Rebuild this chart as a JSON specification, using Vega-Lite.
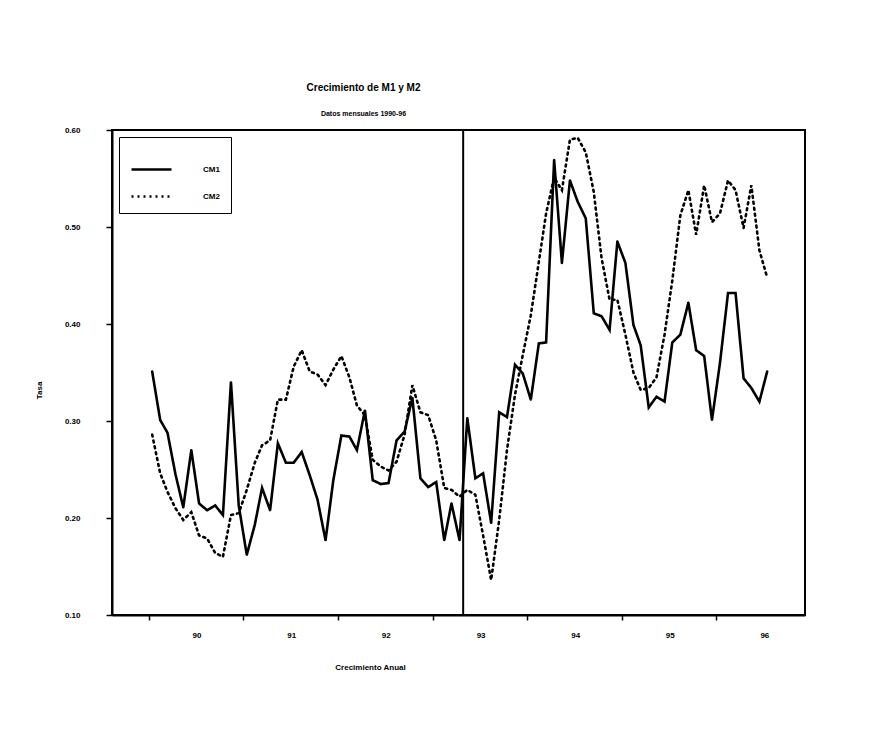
{
  "$schema": "https://vega.github.io/schema/vega-lite/v6.json",
  "autosize": {"type": "none"},
  "width": 693,
  "height": 485,
  "padding": {"left": 112, "top": 130, "right": 64, "bottom": 130},
  "background": "white",
  "title": {
    "text": "Crecimiento de M1 y M2",
    "subtitle": "Datos mensuales 1990-96",
    "anchor": "middle",
    "dx": -95,
    "offset": 9,
    "font": "Liberation Sans",
    "fontSize": 10,
    "fontWeight": "bold",
    "color": "black",
    "subtitleFont": "Liberation Sans",
    "subtitleFontSize": 7,
    "subtitleFontWeight": "bold",
    "subtitleColor": "black",
    "subtitlePadding": 17
  },
  "config": {
    "view": {"stroke": "black", "strokeWidth": 2},
    "axis": {
      "grid": false,
      "domainColor": "black",
      "domainWidth": 2,
      "tickColor": "black",
      "tickWidth": 1.5,
      "labelColor": "black",
      "titleColor": "black",
      "labelFont": "Liberation Sans",
      "titleFont": "Liberation Sans",
      "labelFontWeight": "bold",
      "titleFontWeight": "bold",
      "labelFontSize": 8,
      "titleFontSize": 8
    },
    "legend": {
      "labelFont": "Liberation Sans",
      "labelFontWeight": "bold",
      "labelFontSize": 8,
      "labelColor": "black"
    }
  },
  "layer": [
    {
      "data": {
        "values": [
          {"d": "1990-01-15", "s": "CM1", "v": 0.351}, {"d": "1990-02-15", "s": "CM1", "v": 0.301}, {"d": "1990-03-15", "s": "CM1", "v": 0.288}, {"d": "1990-04-15", "s": "CM1", "v": 0.245}, {"d": "1990-05-15", "s": "CM1", "v": 0.211}, {"d": "1990-06-15", "s": "CM1", "v": 0.270}, {"d": "1990-07-15", "s": "CM1", "v": 0.215}, {"d": "1990-08-15", "s": "CM1", "v": 0.208}, {"d": "1990-09-15", "s": "CM1", "v": 0.213}, {"d": "1990-10-15", "s": "CM1", "v": 0.203}, {"d": "1990-11-15", "s": "CM1", "v": 0.340}, {"d": "1990-12-15", "s": "CM1", "v": 0.213},
          {"d": "1991-01-15", "s": "CM1", "v": 0.162}, {"d": "1991-02-15", "s": "CM1", "v": 0.193}, {"d": "1991-03-15", "s": "CM1", "v": 0.231}, {"d": "1991-04-15", "s": "CM1", "v": 0.208}, {"d": "1991-05-15", "s": "CM1", "v": 0.277}, {"d": "1991-06-15", "s": "CM1", "v": 0.257}, {"d": "1991-07-15", "s": "CM1", "v": 0.257}, {"d": "1991-08-15", "s": "CM1", "v": 0.268}, {"d": "1991-09-15", "s": "CM1", "v": 0.244}, {"d": "1991-10-15", "s": "CM1", "v": 0.219}, {"d": "1991-11-15", "s": "CM1", "v": 0.177}, {"d": "1991-12-15", "s": "CM1", "v": 0.239},
          {"d": "1992-01-15", "s": "CM1", "v": 0.285}, {"d": "1992-02-15", "s": "CM1", "v": 0.284}, {"d": "1992-03-15", "s": "CM1", "v": 0.270}, {"d": "1992-04-15", "s": "CM1", "v": 0.311}, {"d": "1992-05-15", "s": "CM1", "v": 0.239}, {"d": "1992-06-15", "s": "CM1", "v": 0.235}, {"d": "1992-07-15", "s": "CM1", "v": 0.236}, {"d": "1992-08-15", "s": "CM1", "v": 0.280}, {"d": "1992-09-15", "s": "CM1", "v": 0.289}, {"d": "1992-10-15", "s": "CM1", "v": 0.324}, {"d": "1992-11-15", "s": "CM1", "v": 0.241}, {"d": "1992-12-15", "s": "CM1", "v": 0.232},
          {"d": "1993-01-15", "s": "CM1", "v": 0.237}, {"d": "1993-02-15", "s": "CM1", "v": 0.177}, {"d": "1993-03-15", "s": "CM1", "v": 0.215}, {"d": "1993-04-15", "s": "CM1", "v": 0.177}, {"d": "1993-05-15", "s": "CM1", "v": 0.303}, {"d": "1993-06-15", "s": "CM1", "v": 0.241}, {"d": "1993-07-15", "s": "CM1", "v": 0.246}, {"d": "1993-08-15", "s": "CM1", "v": 0.195}, {"d": "1993-09-15", "s": "CM1", "v": 0.309}, {"d": "1993-10-15", "s": "CM1", "v": 0.304}, {"d": "1993-11-15", "s": "CM1", "v": 0.358}, {"d": "1993-12-15", "s": "CM1", "v": 0.349},
          {"d": "1994-01-15", "s": "CM1", "v": 0.322}, {"d": "1994-02-15", "s": "CM1", "v": 0.380}, {"d": "1994-03-15", "s": "CM1", "v": 0.381}, {"d": "1994-04-15", "s": "CM1", "v": 0.569}, {"d": "1994-05-15", "s": "CM1", "v": 0.463}, {"d": "1994-06-15", "s": "CM1", "v": 0.548}, {"d": "1994-07-15", "s": "CM1", "v": 0.526}, {"d": "1994-08-15", "s": "CM1", "v": 0.509}, {"d": "1994-09-15", "s": "CM1", "v": 0.411}, {"d": "1994-10-15", "s": "CM1", "v": 0.408}, {"d": "1994-11-15", "s": "CM1", "v": 0.394}, {"d": "1994-12-15", "s": "CM1", "v": 0.485},
          {"d": "1995-01-15", "s": "CM1", "v": 0.463}, {"d": "1995-02-15", "s": "CM1", "v": 0.399}, {"d": "1995-03-15", "s": "CM1", "v": 0.378}, {"d": "1995-04-15", "s": "CM1", "v": 0.314}, {"d": "1995-05-15", "s": "CM1", "v": 0.325}, {"d": "1995-06-15", "s": "CM1", "v": 0.320}, {"d": "1995-07-15", "s": "CM1", "v": 0.381}, {"d": "1995-08-15", "s": "CM1", "v": 0.389}, {"d": "1995-09-15", "s": "CM1", "v": 0.422}, {"d": "1995-10-15", "s": "CM1", "v": 0.373}, {"d": "1995-11-15", "s": "CM1", "v": 0.367}, {"d": "1995-12-15", "s": "CM1", "v": 0.301},
          {"d": "1996-01-15", "s": "CM1", "v": 0.360}, {"d": "1996-02-15", "s": "CM1", "v": 0.432}, {"d": "1996-03-15", "s": "CM1", "v": 0.432}, {"d": "1996-04-15", "s": "CM1", "v": 0.344}, {"d": "1996-05-15", "s": "CM1", "v": 0.334}, {"d": "1996-06-15", "s": "CM1", "v": 0.320}, {"d": "1996-07-15", "s": "CM1", "v": 0.351},
          {"d": "1990-01-15", "s": "CM2", "v": 0.286}, {"d": "1990-02-15", "s": "CM2", "v": 0.246}, {"d": "1990-03-15", "s": "CM2", "v": 0.227}, {"d": "1990-04-15", "s": "CM2", "v": 0.210}, {"d": "1990-05-15", "s": "CM2", "v": 0.198}, {"d": "1990-06-15", "s": "CM2", "v": 0.206}, {"d": "1990-07-15", "s": "CM2", "v": 0.182}, {"d": "1990-08-15", "s": "CM2", "v": 0.179}, {"d": "1990-09-15", "s": "CM2", "v": 0.164}, {"d": "1990-10-15", "s": "CM2", "v": 0.160}, {"d": "1990-11-15", "s": "CM2", "v": 0.203}, {"d": "1990-12-15", "s": "CM2", "v": 0.205},
          {"d": "1991-01-15", "s": "CM2", "v": 0.229}, {"d": "1991-02-15", "s": "CM2", "v": 0.257}, {"d": "1991-03-15", "s": "CM2", "v": 0.275}, {"d": "1991-04-15", "s": "CM2", "v": 0.280}, {"d": "1991-05-15", "s": "CM2", "v": 0.322}, {"d": "1991-06-15", "s": "CM2", "v": 0.322}, {"d": "1991-07-15", "s": "CM2", "v": 0.356}, {"d": "1991-08-15", "s": "CM2", "v": 0.373}, {"d": "1991-09-15", "s": "CM2", "v": 0.351}, {"d": "1991-10-15", "s": "CM2", "v": 0.348}, {"d": "1991-11-15", "s": "CM2", "v": 0.337}, {"d": "1991-12-15", "s": "CM2", "v": 0.353},
          {"d": "1992-01-15", "s": "CM2", "v": 0.367}, {"d": "1992-02-15", "s": "CM2", "v": 0.345}, {"d": "1992-03-15", "s": "CM2", "v": 0.316}, {"d": "1992-04-15", "s": "CM2", "v": 0.306}, {"d": "1992-05-15", "s": "CM2", "v": 0.260}, {"d": "1992-06-15", "s": "CM2", "v": 0.253}, {"d": "1992-07-15", "s": "CM2", "v": 0.249}, {"d": "1992-08-15", "s": "CM2", "v": 0.258}, {"d": "1992-09-15", "s": "CM2", "v": 0.286}, {"d": "1992-10-15", "s": "CM2", "v": 0.337}, {"d": "1992-11-15", "s": "CM2", "v": 0.309}, {"d": "1992-12-15", "s": "CM2", "v": 0.306},
          {"d": "1993-01-15", "s": "CM2", "v": 0.280}, {"d": "1993-02-15", "s": "CM2", "v": 0.231}, {"d": "1993-03-15", "s": "CM2", "v": 0.229}, {"d": "1993-04-15", "s": "CM2", "v": 0.222}, {"d": "1993-05-15", "s": "CM2", "v": 0.229}, {"d": "1993-06-15", "s": "CM2", "v": 0.224}, {"d": "1993-07-15", "s": "CM2", "v": 0.182}, {"d": "1993-08-15", "s": "CM2", "v": 0.136}, {"d": "1993-09-15", "s": "CM2", "v": 0.198}, {"d": "1993-10-15", "s": "CM2", "v": 0.270}, {"d": "1993-11-15", "s": "CM2", "v": 0.327}, {"d": "1993-12-15", "s": "CM2", "v": 0.368},
          {"d": "1994-01-15", "s": "CM2", "v": 0.409}, {"d": "1994-02-15", "s": "CM2", "v": 0.464}, {"d": "1994-03-15", "s": "CM2", "v": 0.514}, {"d": "1994-04-15", "s": "CM2", "v": 0.551}, {"d": "1994-05-15", "s": "CM2", "v": 0.538}, {"d": "1994-06-15", "s": "CM2", "v": 0.590}, {"d": "1994-07-15", "s": "CM2", "v": 0.592}, {"d": "1994-08-15", "s": "CM2", "v": 0.577}, {"d": "1994-09-15", "s": "CM2", "v": 0.536}, {"d": "1994-10-15", "s": "CM2", "v": 0.468}, {"d": "1994-11-15", "s": "CM2", "v": 0.425}, {"d": "1994-12-15", "s": "CM2", "v": 0.425},
          {"d": "1995-01-15", "s": "CM2", "v": 0.389}, {"d": "1995-02-15", "s": "CM2", "v": 0.350}, {"d": "1995-03-15", "s": "CM2", "v": 0.332}, {"d": "1995-04-15", "s": "CM2", "v": 0.334}, {"d": "1995-05-15", "s": "CM2", "v": 0.345}, {"d": "1995-06-15", "s": "CM2", "v": 0.389}, {"d": "1995-07-15", "s": "CM2", "v": 0.445}, {"d": "1995-08-15", "s": "CM2", "v": 0.512}, {"d": "1995-09-15", "s": "CM2", "v": 0.538}, {"d": "1995-10-15", "s": "CM2", "v": 0.492}, {"d": "1995-11-15", "s": "CM2", "v": 0.543}, {"d": "1995-12-15", "s": "CM2", "v": 0.505},
          {"d": "1996-01-15", "s": "CM2", "v": 0.514}, {"d": "1996-02-15", "s": "CM2", "v": 0.548}, {"d": "1996-03-15", "s": "CM2", "v": 0.538}, {"d": "1996-04-15", "s": "CM2", "v": 0.499}, {"d": "1996-05-15", "s": "CM2", "v": 0.543}, {"d": "1996-06-15", "s": "CM2", "v": 0.476}, {"d": "1996-07-15", "s": "CM2", "v": 0.448}
        ]
      },
      "mark": {"type": "line", "color": "black", "strokeWidth": 2.6, "strokeCap": "round", "strokeJoin": "miter", "clip": true},
      "encoding": {
        "x": {
          "field": "d",
          "type": "temporal",
          "scale": {"type": "utc", "domain": [{"year": 1989, "month": 8, "date": 13, "utc": true}, {"year": 1996, "month": 12, "date": 8, "utc": true}]},
          "axis": {
            "title": "Crecimiento Anual",
            "values": [
              {"year": 1990, "month": 1, "date": 1, "utc": true},
              {"year": 1991, "month": 1, "date": 1, "utc": true},
              {"year": 1992, "month": 1, "date": 1, "utc": true},
              {"year": 1993, "month": 1, "date": 1, "utc": true},
              {"year": 1994, "month": 1, "date": 1, "utc": true},
              {"year": 1995, "month": 1, "date": 1, "utc": true},
              {"year": 1996, "month": 1, "date": 1, "utc": true}
            ],
            "format": "%y",
            "labelOffset": 48,
            "labelPadding": 11,
            "tickSize": 5,
            "labelFlush": false,
            "labelOverlap": false,
            "titleX": 258,
            "titleY": 48,
            "titleAnchor": null
          }
        },
        "y": {
          "field": "v",
          "type": "quantitative",
          "scale": {"domain": [0.1, 0.6], "nice": false, "zero": false},
          "axis": {
            "title": "Tasa",
            "values": [0.1, 0.2, 0.3, 0.4, 0.5, 0.6],
            "format": ".2f",
            "tickSize": 6,
            "labelPadding": 26,
            "titleX": -69,
            "titleY": 260,
            "titleAnchor": null
          }
        },
        "strokeDash": {
          "field": "s",
          "type": "nominal",
          "scale": {"domain": ["CM1", "CM2"], "range": [[1, 0], [2, 4]]},
          "legend": {
            "title": null,
            "orient": "top-left",
            "offset": 7,
            "strokeColor": "black",
            "padding": 11,
            "rowPadding": 0,
            "symbolType": "stroke",
            "symbolSize": 1600,
            "symbolStrokeWidth": 2.5,
            "symbolStrokeColor": "black",
            "labelOffset": 30
          }
        }
      }
    },
    {
      "data": {"values": [{"d": "1993-04-29"}]},
      "mark": {"type": "rule", "color": "black", "strokeWidth": 2},
      "encoding": {
        "x": {"field": "d", "type": "temporal"}
      }
    }
  ]
}
